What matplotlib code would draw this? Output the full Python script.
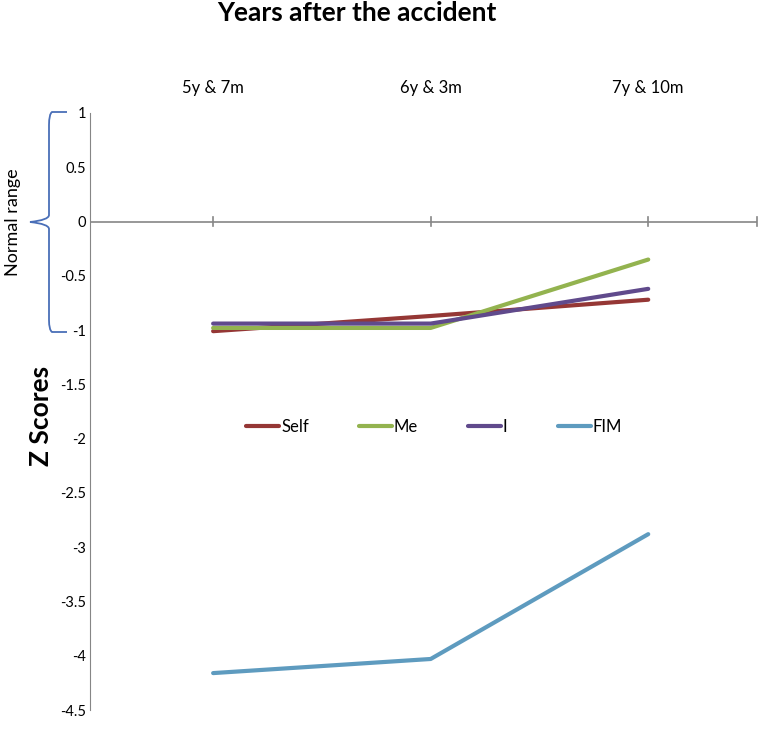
import matplotlib
matplotlib.use("Agg")
from matplotlib import pyplot
from matplotlib.path import Path
from matplotlib.patches import PathPatch

pyplot.rcParams["font.family"] = ["Lato", "DejaVu Sans"]

categories = ["5y & 7m", "6y & 3m", "7y & 10m"]
self_z = [-1.01, -0.87, -0.72]
me_z = [-0.98, -0.98, -0.35]
i_z = [-0.94, -0.94, -0.62]
fim_z = [-4.16, -4.03, -2.88]
yticks = [1, 0.5, 0, -0.5, -1, -1.5, -2, -2.5, -3, -3.5, -4, -4.5]

W, H = 761, 730
fig = pyplot.figure(figsize=(W / 100, H / 100), dpi=100)
ax = fig.add_axes([90 / W, 1 - 710 / H, (757 - 90) / W, (710 - 113) / H])

x = range(len(categories))
ax.plot(x, self_z, color="#953735", lw=3, label="Self", solid_capstyle="round")
ax.plot(x, me_z, color="#93B34F", lw=3, label="Me", solid_capstyle="round")
ax.plot(x, i_z, color="#604A8C", lw=3, label="I", solid_capstyle="round")
ax.plot(x, fim_z, color="#5E9BBF", lw=3, label="FIM", solid_capstyle="round")

ax.set_xlim(-0.566, 2.5)
ax.set_ylim(-4.5, 1)

# y axis: labels only, no ticks
ax.set_yticks(yticks)
ax.set_yticklabels([f"{v:g}" for v in yticks], fontsize=10.5)
ax.tick_params(axis="y", length=0, pad=3)

# horizontal axis at zero with cross ticks
for s in ["top", "right", "bottom"]:
    ax.spines[s].set_visible(False)
ax.spines["left"].set_color("#868686")
ax.axhline(0, color="#868686", lw=1.2, zorder=1)
for xt in [0, 1, 2, 2.5]:
    ax.plot([xt, xt], [-0.045, 0.045], color="#868686", lw=1.2, clip_on=False, zorder=1)
ax.set_xticks([])

# category labels along the top
for xi, c in zip(x, categories):
    ax.text(xi, 1.23, c, ha="center", va="center", fontsize=12, clip_on=False)

fig.text(357 / W, 1 - 13 / H, "Years after the accident", ha="center", va="center",
         fontsize=19, fontweight="bold")

fig.text(41 / W, 1 - 416 / H, "Z Scores", rotation=90, ha="center", va="center",
         fontsize=19, fontweight="bold")
fig.text(13 / W, 1 - 222 / H, "Normal range", rotation=90, ha="center", va="center",
         fontsize=13)

# curly brace for normal range (figure pixels)
def fp(px, py):
    return (px / W, 1 - py / H)

verts = [fp(67, 112), fp(52, 112), fp(49, 114), fp(49, 125),
         fp(49, 215), fp(49, 220), fp(30, 222),
         fp(49, 224), fp(49, 229), fp(49, 320),
         fp(49, 330), fp(52, 332), fp(67, 332)]
codes = [Path.MOVETO, Path.LINETO, Path.CURVE3, Path.CURVE3,
         Path.LINETO, Path.CURVE3, Path.CURVE3,
         Path.CURVE3, Path.CURVE3, Path.LINETO,
         Path.CURVE3, Path.CURVE3, Path.LINETO]
brace = PathPatch(Path(verts, codes), transform=fig.transFigure, fill=False,
                  edgecolor="#4A6FB8", lw=1.3)
fig.patches.append(brace)

ax.legend(loc="center", bbox_to_anchor=((434 - 90) / (757 - 90), (710 - 427) / (710 - 113)),
          ncol=4, frameon=False, fontsize=12, handlelength=2.0, handletextpad=0.1,
          columnspacing=3.0)

fig.savefig("out.png", dpi=100)
